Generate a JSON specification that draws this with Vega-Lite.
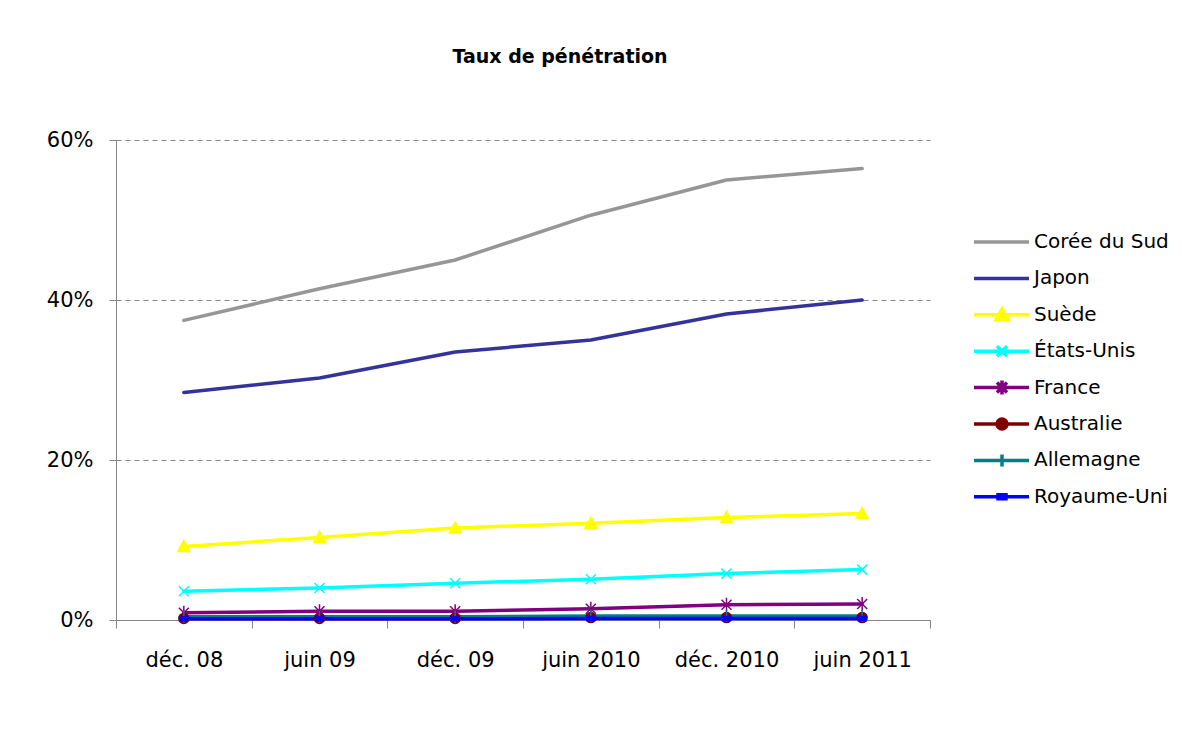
{
  "$schema": "https://vega.github.io/schema/vega-lite/v6.json",
  "width": 814,
  "height": 480,
  "autosize": {"type": "none"},
  "padding": {"left": 116, "top": 140, "right": 252, "bottom": 124},
  "background": "white",
  "config": {
    "font": "DejaVu Sans",
    "view": {"stroke": null}
  },
  "title": {
    "text": "Taux de pénétration",
    "font": "DejaVu Sans",
    "fontSize": 19,
    "fontWeight": "bold",
    "color": "black",
    "anchor": "middle",
    "frame": "group",
    "baseline": "alphabetic",
    "offset": 47,
    "dx": 37
  },
  "data": {
    "values": [
      {"pays": "Corée du Sud", "periode": "déc. 08", "taux": 0.3745},
      {"pays": "Corée du Sud", "periode": "juin 09", "taux": 0.414},
      {"pays": "Corée du Sud", "periode": "déc. 09", "taux": 0.45},
      {"pays": "Corée du Sud", "periode": "juin 2010", "taux": 0.506},
      {"pays": "Corée du Sud", "periode": "déc. 2010", "taux": 0.55},
      {"pays": "Corée du Sud", "periode": "juin 2011", "taux": 0.5645},
      {"pays": "Japon", "periode": "déc. 08", "taux": 0.2845},
      {"pays": "Japon", "periode": "juin 09", "taux": 0.3025},
      {"pays": "Japon", "periode": "déc. 09", "taux": 0.335},
      {"pays": "Japon", "periode": "juin 2010", "taux": 0.35},
      {"pays": "Japon", "periode": "déc. 2010", "taux": 0.3825},
      {"pays": "Japon", "periode": "juin 2011", "taux": 0.4},
      {"pays": "Suède", "periode": "déc. 08", "taux": 0.092},
      {"pays": "Suède", "periode": "juin 09", "taux": 0.103},
      {"pays": "Suède", "periode": "déc. 09", "taux": 0.115},
      {"pays": "Suède", "periode": "juin 2010", "taux": 0.121},
      {"pays": "Suède", "periode": "déc. 2010", "taux": 0.128},
      {"pays": "Suède", "periode": "juin 2011", "taux": 0.133},
      {"pays": "États-Unis", "periode": "déc. 08", "taux": 0.036},
      {"pays": "États-Unis", "periode": "juin 09", "taux": 0.04},
      {"pays": "États-Unis", "periode": "déc. 09", "taux": 0.046},
      {"pays": "États-Unis", "periode": "juin 2010", "taux": 0.051},
      {"pays": "États-Unis", "periode": "déc. 2010", "taux": 0.058},
      {"pays": "États-Unis", "periode": "juin 2011", "taux": 0.063},
      {"pays": "France", "periode": "déc. 08", "taux": 0.009},
      {"pays": "France", "periode": "juin 09", "taux": 0.011},
      {"pays": "France", "periode": "déc. 09", "taux": 0.011},
      {"pays": "France", "periode": "juin 2010", "taux": 0.014},
      {"pays": "France", "periode": "déc. 2010", "taux": 0.019},
      {"pays": "France", "periode": "juin 2011", "taux": 0.02},
      {"pays": "Australie", "periode": "déc. 08", "taux": 0.002},
      {"pays": "Australie", "periode": "juin 09", "taux": 0.002},
      {"pays": "Australie", "periode": "déc. 09", "taux": 0.002},
      {"pays": "Australie", "periode": "juin 2010", "taux": 0.003},
      {"pays": "Australie", "periode": "déc. 2010", "taux": 0.003},
      {"pays": "Australie", "periode": "juin 2011", "taux": 0.003},
      {"pays": "Allemagne", "periode": "déc. 08", "taux": 0.004},
      {"pays": "Allemagne", "periode": "juin 09", "taux": 0.004},
      {"pays": "Allemagne", "periode": "déc. 09", "taux": 0.004},
      {"pays": "Allemagne", "periode": "juin 2010", "taux": 0.005},
      {"pays": "Allemagne", "periode": "déc. 2010", "taux": 0.005},
      {"pays": "Allemagne", "periode": "juin 2011", "taux": 0.005},
      {"pays": "Royaume-Uni", "periode": "déc. 08", "taux": 0.0015},
      {"pays": "Royaume-Uni", "periode": "juin 09", "taux": 0.0015},
      {"pays": "Royaume-Uni", "periode": "déc. 09", "taux": 0.0015},
      {"pays": "Royaume-Uni", "periode": "juin 2010", "taux": 0.002},
      {"pays": "Royaume-Uni", "periode": "déc. 2010", "taux": 0.002},
      {"pays": "Royaume-Uni", "periode": "juin 2011", "taux": 0.002}
    ]
  },
  "encoding": {
    "x": {
      "field": "periode",
      "type": "ordinal",
      "sort": ["déc. 08", "juin 09", "déc. 09", "juin 2010", "déc. 2010", "juin 2011"],
      "scale": {"type": "band", "paddingInner": 0, "paddingOuter": 0},
      "axis": {
        "title": null,
        "labelAngle": 0,
        "labelFont": "DejaVu Sans",
        "labelFontSize": 21,
        "labelColor": "black",
        "labelPadding": 21,
        "tickBand": "extent",
        "tickSize": 8,
        "tickColor": "#868686",
        "domainColor": "#868686",
        "domainWidth": 1,
        "grid": false
      }
    },
    "y": {
      "field": "taux",
      "type": "quantitative",
      "scale": {"domain": [0, 0.6], "nice": false},
      "axis": {
        "title": null,
        "values": [0, 0.2, 0.4, 0.6],
        "format": ".0%",
        "labelFont": "DejaVu Sans",
        "labelFontSize": 21,
        "labelColor": "black",
        "labelPadding": 16,
        "tickSize": 7,
        "tickColor": "#868686",
        "domainColor": "#868686",
        "grid": true,
        "gridColor": "#868686",
        "gridDash": [5, 4],
        "gridWidth": 1
      }
    }
  },
  "layer": [
    {
      "mark": {"type": "line", "strokeCap": "round", "strokeJoin": "round"},
      "encoding": {
        "color": {
          "field": "pays",
          "type": "nominal",
          "scale": {
            "domain": ["Corée du Sud", "Japon", "Suède", "États-Unis", "France", "Australie", "Allemagne", "Royaume-Uni"],
            "range": ["#969696", "#333399", "#FFFF00", "#00FFFF", "#800080", "#800000", "#008080", "#0000FF"]
          },
          "legend": {
            "title": null,
            "orient": "none",
            "legendX": 848,
            "legendY": 92,
            "symbolSize": 4,
            "symbolStrokeWidth": 2,
            "labelFont": "DejaVu Sans",
            "labelFontSize": 20,
            "labelColor": "black",
            "labelOffset": 50,
            "clipHeight": 20,
            "rowPadding": 16.4,
            "padding": 0,
            "encode": {
              "symbols": {
                "update": {
                  "shape": {"signal": "datum.value === 'Suède' ? 'M0,0H55M28,-6L34,5H22Z' : datum.value === 'États-Unis' ? 'M0,0H55M23,-5L33,5M23,5L33,-5' : datum.value === 'France' ? 'M0,0H55M23,-5L33,5M23,5L33,-5M28,-7V7' : datum.value === 'Australie' ? 'M0,0H55M23,0A5,5 0 1,0 33,0A5,5 0 1,0 23,0Z' : datum.value === 'Allemagne' ? 'M0,0H55M28,-6V6' : datum.value === 'Royaume-Uni' ? 'M0,0H55M24,-2H32V2H24Z' : 'M0,0H55'"},
                  "fill": {"scale": "color", "field": "value"},
                  "strokeWidth": {"signal": "datum.value === 'Corée du Sud' || datum.value === 'Japon' ? 3.5 : 2"},
                  "opacity": {"value": 1}
                }
              }
            }
          }
        },
        "strokeWidth": {
          "field": "pays",
          "type": "nominal",
          "scale": {
            "domain": ["Corée du Sud", "Japon", "Suède", "États-Unis", "France", "Australie", "Allemagne", "Royaume-Uni"],
            "range": [3.5, 3.5, 2, 2, 2, 2, 2, 2]
          },
          "legend": null
        }
      }
    },
    {
      "transform": [{"filter": "datum.pays !== 'Corée du Sud' && datum.pays !== 'Japon'"}],
      "mark": {"type": "point", "filled": true, "size": 4, "strokeWidth": 1.5, "opacity": 1},
      "encoding": {
        "color": {"field": "pays", "type": "nominal", "legend": null},
        "stroke": {"field": "pays", "type": "nominal", "scale": {
            "domain": ["Corée du Sud", "Japon", "Suède", "États-Unis", "France", "Australie", "Allemagne", "Royaume-Uni"],
            "range": ["#969696", "#333399", "#FFFF00", "#00FFFF", "#800080", "#800000", "#008080", "#0000FF"]
          }, "legend": null},
        "shape": {
          "field": "pays",
          "type": "nominal",
          "scale": {
            "domain": ["Suède", "États-Unis", "France", "Australie", "Allemagne", "Royaume-Uni"],
            "range": [
              "M0,-6L6,5H-6Z",
              "M-5,-5L5,5M-5,5L5,-5",
              "M-5,-5L5,5M-5,5L5,-5M0,-7V7",
              "M-5,0A5,5 0 1,0 5,0A5,5 0 1,0 -5,0Z",
              "M0,-6V6",
              "M-4,-2H4V2H-4Z"
            ]
          },
          "legend": null
        }
      }
    }
  ]
}
